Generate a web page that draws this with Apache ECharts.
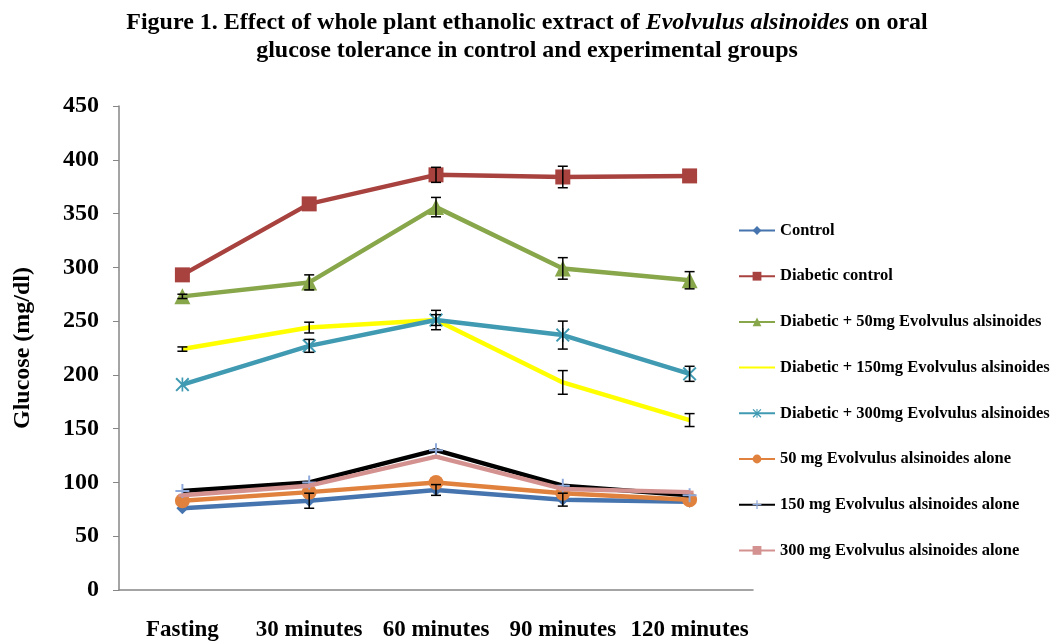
<!DOCTYPE html>
<html>
<head>
<meta charset="utf-8">
<script src="https://cdn.jsdelivr.net/npm/echarts@6/dist/echarts.min.js"></script>
<style>
  html, body { margin: 0; padding: 0; background: #fff; }
  #chart { width: 1056px; height: 642px; }
</style>
</head>
<body>
<div id="chart"></div>
<script>
var categories = ['Fasting', '30 minutes', '60 minutes', '90 minutes', '120 minutes'];
var yTicks = [0, 50, 100, 150, 200, 250, 300, 350, 400, 450];

var seriesNames = [
  'Control',
  'Diabetic control',
  'Diabetic + 50mg Evolvulus alsinoides',
  'Diabetic + 150mg Evolvulus alsinoides',
  'Diabetic + 300mg Evolvulus alsinoides',
  '50 mg Evolvulus alsinoides alone',
  '150 mg Evolvulus alsinoides alone',
  '300 mg Evolvulus alsinoides alone'
];

// mean glucose (mg/dl)
var control = [76, 83, 93, 84, 82];
var diabeticControl = [293, 359, 386, 384, 385];
var diabetic50 = [273, 286, 356, 299, 288];
var diabetic150 = [224, 244, 251, 193, 158];
var diabetic300 = [191, 227, 251, 237, 201];
var alone50 = [83, 91, 100, 90, 84];
var alone150 = [92, 100, 130, 97, 88];
var alone300 = [88, 97, 124, 94, 91];

// error (+/-)
var controlErr = [0, 7, 5, 6, 0];
var diabeticControlErr = [0, 0, 7, 10, 0];
var diabetic50Err = [2, 7, 9, 10, 8];
var diabetic150Err = [2, 5, 9, 11, 6];
var diabetic300Err = [0, 6, 5, 13, 7];

var colors = ['#4674AE', '#A8423F', '#88A64A', '#FFFF00', '#3F9AB2', '#E0823D', '#000000', '#D39290'];

var plusPath = 'path://M4.3,0 L5.7,0 L5.7,4.3 L10,4.3 L10,5.7 L5.7,5.7 L5.7,10 L4.3,10 L4.3,5.7 L0,5.7 L0,4.3 L4.3,4.3 Z';
var starPath = 'path://M1,0 L5,4 L9,0 L10,1 L6,5 L10,9 L9,10 L5,6 L1,10 L0,9 L4,5 L0,1 Z M4.4,0 L5.6,0 L5.6,10 L4.4,10 Z';

var serif = '"Liberation Serif", "DejaVu Serif", serif';

function errData(vals, errs) {
  var out = [];
  for (var i = 0; i < vals.length; i++) {
    if (errs[i] > 0) out.push([i, vals[i] - errs[i], vals[i] + errs[i]]);
  }
  return out;
}

var errorPoints = []
  .concat(errData(control, controlErr))
  .concat(errData(diabeticControl, diabeticControlErr))
  .concat(errData(diabetic50, diabetic50Err))
  .concat(errData(diabetic150, diabetic150Err))
  .concat(errData(diabetic300, diabetic300Err));

function renderError(params, api) {
  var lo = api.coord([api.value(0), api.value(1)]);
  var hi = api.coord([api.value(0), api.value(2)]);
  var w = 5;
  var st = { stroke: '#000', lineWidth: 1.5 };
  return {
    type: 'group',
    children: [
      { type: 'line', shape: { x1: lo[0], y1: lo[1], x2: hi[0], y2: hi[1] }, style: st },
      { type: 'line', shape: { x1: lo[0] - w, y1: lo[1], x2: lo[0] + w, y2: lo[1] }, style: st },
      { type: 'line', shape: { x1: hi[0] - w, y1: hi[1], x2: hi[0] + w, y2: hi[1] }, style: st }
    ]
  };
}

function lineSeries(idx, data, symbol, size, extra) {
  var s = {
    name: seriesNames[idx],
    type: 'line',
    data: data,
    symbol: symbol,
    symbolSize: size,
    showSymbol: symbol !== 'none',
    lineStyle: { width: 4.5, color: colors[idx] },
    itemStyle: { color: colors[idx] },
    z: 2 + idx
  };
  if (extra) Object.assign(s, extra);
  return s;
}

// the 150mg diabetic line has no marker, so hide it in the legend too
var legendData = seriesNames.map(function (n, i) {
  if (i === 3) return { name: n, itemStyle: { opacity: 0, color: 'transparent', borderColor: 'transparent' } };
  return { name: n };
});

var chart = echarts.init(document.getElementById('chart'));

var option = {
  animation: false,
  color: colors,
  title: {
    text: '{b|Figure 1. Effect of whole plant ethanolic extract of }{i|Evolvulus alsinoides}{b| on oral}\n{b|glucose tolerance in control and experimental groups}',
    left: 522,
    textAlign: 'center',
    top: 4,
    textStyle: {
      rich: {
        b: { fontFamily: serif, fontWeight: 'bold', fontSize: 24, lineHeight: 28, color: '#000' },
        i: { fontFamily: serif, fontWeight: 'bold', fontStyle: 'italic', fontSize: 24, lineHeight: 28, color: '#000' }
      }
    }
  },
  legend: {
    orient: 'vertical',
    left: 733,
    top: 217,
    itemWidth: 36,
    itemHeight: 11,
    itemGap: 28.7,
    lineStyle: { width: 2 },
    textStyle: { fontFamily: serif, fontWeight: 'bold', fontSize: 16.5, color: '#000', lineHeight: 16 },
    data: legendData
  },
  grid: { left: 119, right: 303, top: 106, bottom: 50, containLabel: false },
  xAxis: {
    type: 'category',
    data: categories,
    boundaryGap: true,
    axisLine: { lineStyle: { color: '#868686', width: 1.5 } },
    axisTick: { show: false },
    axisLabel: { interval: 0, fontFamily: serif, fontWeight: 'bold', fontSize: 23, color: '#000', margin: 29 }
  },
  yAxis: {
    type: 'value',
    min: yTicks[0],
    max: yTicks[yTicks.length - 1],
    interval: 50,
    name: 'Glucose (mg/dl)',
    nameLocation: 'middle',
    nameGap: 84,
    nameTextStyle: { fontFamily: serif, fontWeight: 'bold', fontSize: 24, color: '#000' },
    splitLine: { show: false },
    axisLine: { show: true, lineStyle: { color: '#868686', width: 1.5 } },
    axisTick: { show: true, length: 6, lineStyle: { color: '#868686' } },
    axisLabel: { fontFamily: serif, fontWeight: 'bold', fontSize: 24, color: '#000', margin: 20 }
  },
  series: [
    lineSeries(0, control, 'diamond', 12),
    lineSeries(1, diabeticControl, 'rect', 15),
    lineSeries(2, diabetic50, 'triangle', 16),
    lineSeries(3, diabetic150, 'none', 0),
    lineSeries(4, diabetic300, starPath, 14),
    lineSeries(5, alone50, 'circle', 15),
    lineSeries(6, alone150, plusPath, 14, { itemStyle: { color: '#8EA9DB' } }),
    lineSeries(7, alone300, 'rect', [8, 3]),
    {
      name: 'error',
      type: 'custom',
      renderItem: renderError,
      data: errorPoints,
      encode: { x: 0, y: [1, 2] },
      z: 20,
      silent: true
    }
  ]
};

chart.setOption(option);
</script>
</body>
</html>
